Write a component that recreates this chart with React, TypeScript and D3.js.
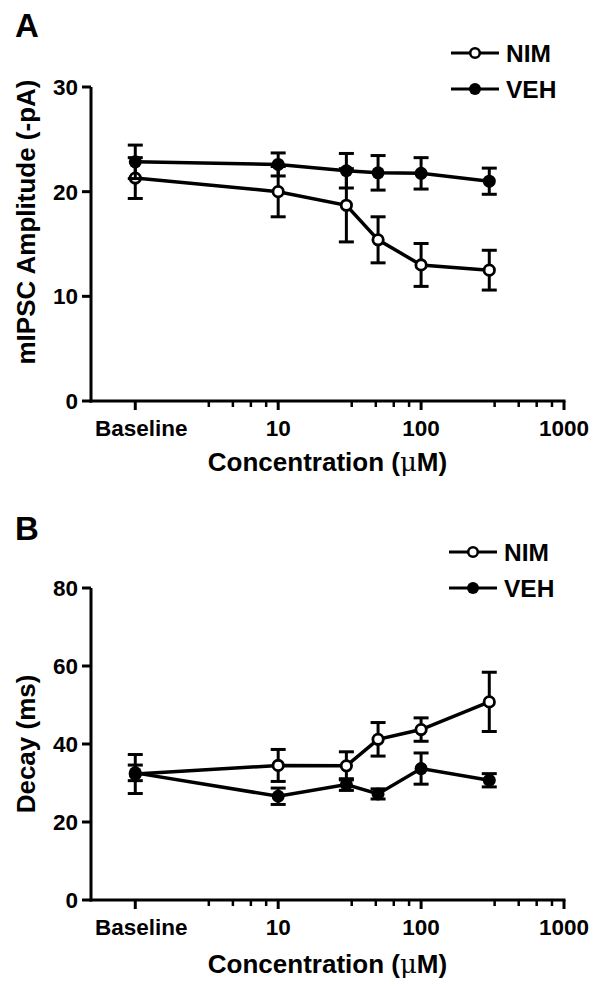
import React from "react";
import * as d3 from "d3";

// ---- data ----
const concentrations = [1, 10, 30, 50, 100, 300]; // 1 = "Baseline"
const xTickValues = [1, 10, 100, 1000];
const xTickLabels = ["Baseline", "10", "100", "1000"];
const xMinorTicks = [3.27, 4.82, 6.44, 8.24, 32.7, 48.2, 64.4, 82.4, 327, 482, 644, 824];

const ampNIM = [21.3, 20.0, 18.7, 15.4, 13.0, 12.5];
const ampNIMErr = [1.95, 2.4, 3.5, 2.2, 2.05, 1.9];
const ampVEH = [22.85, 22.6, 22.0, 21.8, 21.75, 21.0];
const ampVEHErr = [1.6, 1.1, 1.65, 1.65, 1.5, 1.25];
const ampTicks = [0, 10, 20, 30];

const decayNIM = [32.3, 34.5, 34.4, 41.2, 43.7, 50.8];
const decayNIMErr = [5.0, 4.1, 3.6, 4.3, 3.0, 7.6];
const decayVEH = [32.6, 26.6, 29.6, 27.2, 33.7, 30.7];
const decayVEHErr = [2.0, 2.1, 1.5, 1.3, 4.0, 1.7];
const decayTicks = [0, 20, 40, 60, 80];

const seriesNames = ["NIM", "VEH"];

const FONT = "'Liberation Sans', Arial, Helvetica, sans-serif";

type PanelProps = {
  letter: string;
  top: number;
  bottom: number;
  yMax: number;
  yTicks: number[];
  yTitle: string;
  yTitleCenter: number;
  nim: number[];
  nimErr: number[];
  veh: number[];
  vehErr: number[];
  letterY: number;
  legendX: number;
  legendY: number;
  titleY: number;
};

function Panel(p: PanelProps) {
  const x = d3.scaleLog().domain([0.49, 1000]).range([91, 564]);
  const y = d3.scaleLinear().domain([0, p.yMax]).range([p.bottom, p.top]);
  const line = d3
    .line<number>()
    .x((_, i) => x(concentrations[i]))
    .y((d) => y(d));

  const errBars = (vals: number[], errs: number[], key: string) =>
    vals.map((v, i) => {
      const cx = x(concentrations[i]);
      const y1 = y(v + errs[i]);
      const y2 = y(v - errs[i]);
      return (
        <g key={key + i} stroke="#000" strokeWidth={3}>
          <line x1={cx} x2={cx} y1={y1} y2={y2} />
          <line x1={cx - 7.5} x2={cx + 7.5} y1={y1} y2={y1} />
          <line x1={cx - 7.5} x2={cx + 7.5} y1={y2} y2={y2} />
        </g>
      );
    });

  return (
    <g fontFamily={FONT} fontWeight="bold" fill="#000">
      <text x={15} y={p.letterY} fontSize={33}>
        {p.letter}
      </text>
      {/* y axis */}
      <line x1={91} x2={91} y1={p.top} y2={p.bottom + 1.5} stroke="#000" strokeWidth={3} />
      {p.yTicks.map((t) => (
        <g key={"yt" + t}>
          <line x1={82} x2={91} y1={y(t)} y2={y(t)} stroke="#000" strokeWidth={3} />
          <text x={78} y={y(t)} dy="0.36em" textAnchor="end" fontSize={22.5}>
            {t}
          </text>
        </g>
      ))}
      <text
        transform={`translate(35,${p.yTitleCenter}) rotate(-90)`}
        textAnchor="middle"
        fontSize={26}
      >
        {p.yTitle}
      </text>
      {/* x axis */}
      <line x1={89.5} x2={565.5} y1={p.bottom} y2={p.bottom} stroke="#000" strokeWidth={3} />
      {xTickValues.map((t, i) => (
        <g key={"xt" + t}>
          <line x1={x(t)} x2={x(t)} y1={p.bottom} y2={p.bottom + 9} stroke="#000" strokeWidth={3} />
          <text
            x={x(t) + (i === 0 ? 6 : 0)}
            y={p.bottom + 34.5}
            textAnchor="middle"
            fontSize={22.5}
          >
            {xTickLabels[i]}
          </text>
        </g>
      ))}
      {xMinorTicks.map((t) => (
        <line key={"mt" + t} x1={x(t)} x2={x(t)} y1={p.bottom} y2={p.bottom + 6} stroke="#000" strokeWidth={2.5} />
      ))}
      <text x={327.5} y={p.titleY} textAnchor="middle" fontSize={26}>
        Concentration (
        <tspan fontFamily="'DejaVu Serif', serif" fontWeight="normal">
          μ
        </tspan>
        M)
      </text>
      {/* NIM series */}
      {errBars(p.nim, p.nimErr, "ne")}
      <path d={line(p.nim) || ""} fill="none" stroke="#000" strokeWidth={3.5} />
      {p.nim.map((v, i) => (
        <circle key={"nm" + i} cx={x(concentrations[i])} cy={y(v)} r={5.2} fill="#fff" stroke="#000" strokeWidth={2.8} />
      ))}
      {/* VEH series */}
      {errBars(p.veh, p.vehErr, "ve")}
      <path d={line(p.veh) || ""} fill="none" stroke="#000" strokeWidth={3.5} />
      {p.veh.map((v, i) => (
        <circle key={"vm" + i} cx={x(concentrations[i])} cy={y(v)} r={6.5} fill="#000" />
      ))}
      {/* legend */}
      {seriesNames.map((name, i) => {
        const ly = p.legendY + i * 36;
        return (
          <g key={"lg" + name}>
            <line x1={p.legendX} x2={p.legendX + 48} y1={ly} y2={ly} stroke="#000" strokeWidth={3} />
            {i === 0 ? (
              <circle cx={p.legendX + 24} cy={ly} r={4.8} fill="#fff" stroke="#000" strokeWidth={2.6} />
            ) : (
              <circle cx={p.legendX + 24} cy={ly} r={6} fill="#000" />
            )}
            <text x={p.legendX + 55} y={ly + 8.8} fontSize={24.5}>
              {name}
            </text>
          </g>
        );
      })}
    </g>
  );
}

export default function App() {
  return (
    <svg
      width={600}
      height={986}
      style={{ position: "absolute", left: 0, top: 0, background: "#fff" }}
    >
      <rect width={600} height={986} fill="#fff" />
      <Panel
        letter="A"
        top={87}
        bottom={401}
        yMax={30}
        yTicks={ampTicks}
        yTitle="mIPSC Amplitude (-pA)"
        yTitleCenter={222}
        nim={ampNIM}
        nimErr={ampNIMErr}
        veh={ampVEH}
        vehErr={ampVEHErr}
        letterY={37}
        legendX={451}
        legendY={53}
        titleY={471}
      />
      <Panel
        letter="B"
        top={588}
        bottom={900}
        yMax={80}
        yTicks={decayTicks}
        yTitle="Decay (ms)"
        yTitleCenter={744}
        nim={decayNIM}
        nimErr={decayNIMErr}
        veh={decayVEH}
        vehErr={decayVEHErr}
        letterY={540}
        legendX={449}
        legendY={552}
        titleY={973}
      />
    </svg>
  );
}
